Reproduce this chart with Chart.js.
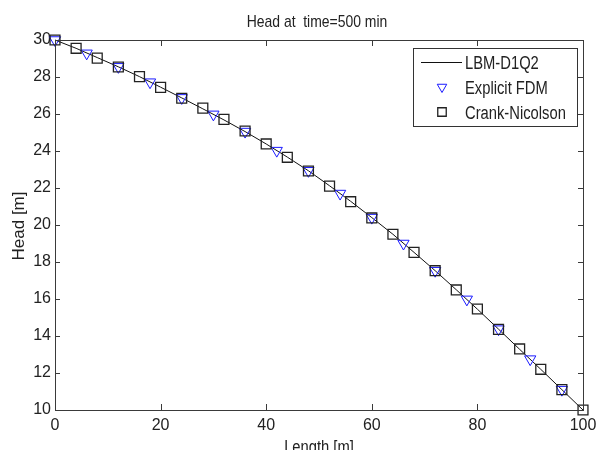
<!DOCTYPE html>
<html lang="en">
<head>
    <meta charset="UTF-8">
    <title>Head at time=500 min</title>
    <script src="https://cdn.jsdelivr.net/npm/chart.js"></script>
    <style>
        body {
            margin: 0;
            padding: 0;
            background-color: #fff;
        }
        #wrap {
            width: 596px;
            height: 450px;
        }
    </style>
</head>
<body>

    <div id="wrap"><canvas id="myChart" width="596" height="450"></canvas></div>

    <script>
        // values
        var lbmX = [0, 4, 8, 12, 16, 20, 24, 28, 32, 36, 40, 44, 48, 52, 56, 60, 64, 68, 72, 76, 80, 84, 88, 92, 96, 100];
        var lbmHead = [30, 29.55, 29.05, 28.55, 28.02, 27.45, 26.87, 26.28, 25.68, 25.05, 24.38, 23.67, 22.93, 22.12, 21.28, 20.4, 19.5, 18.52, 17.53, 16.5, 15.45, 14.37, 13.28, 12.2, 11.1, 10];

        var fdmX = [0, 6, 12, 18, 24, 30, 36, 42, 48, 54, 60, 66, 72, 78, 84, 90, 96];
        var fdmHead = [30, 29.28, 28.55, 27.72, 26.87, 25.98, 25.05, 24.02, 22.93, 21.7, 20.4, 19.0, 17.53, 15.98, 14.37, 12.75, 11.1];

        var cnX = [0, 4, 8, 12, 16, 20, 24, 28, 32, 36, 40, 44, 48, 52, 56, 60, 64, 68, 72, 76, 80, 84, 88, 92, 96, 100];
        var cnHead = [30, 29.55, 29.02, 28.54, 28.02, 27.44, 26.85, 26.32, 25.71, 25.08, 24.38, 23.66, 22.92, 22.1, 21.26, 20.38, 19.5, 18.52, 17.53, 16.49, 15.46, 14.36, 13.3, 12.2, 11.1, 10];

        var xTicks = [0, 20, 40, 60, 80, 100];
        var yTicks = [10, 12, 14, 16, 18, 20, 22, 24, 26, 28, 30];

        var titleText = 'Head at  time=500 min';
        var xLabel = 'Length [m]';
        var yLabel = 'Head [m]';

        var FONT = "'Liberation Sans', Arial, sans-serif";

        function toPoints(xs, ys) {
            return xs.map((x, i) => ({ x: x, y: ys[i] }));
        }

        // the source picture is squeezed sideways, so text gets narrowed
        function narrowText(ctx, text, x, y, align) {
            ctx.save();
            ctx.translate(x, y);
            ctx.scale(0.82, 1);
            ctx.textAlign = align;
            ctx.fillText(text, 0, 0);
            ctx.restore();
        }

        // frame, inward ticks, title, axis labels and legend, matlab style
        var matlabAxes = {
            id: 'matlabAxes',
            afterDraw(chart) {
                var ctx = chart.ctx;
                var a = chart.chartArea;
                var xs = chart.scales.x;
                var ys = chart.scales.y;
                ctx.save();
                ctx.strokeStyle = '#3a3a3a';
                ctx.lineWidth = 1;
                ctx.strokeRect(Math.round(a.left) + 0.5, Math.round(a.top) + 0.5,
                    Math.round(a.right - a.left), Math.round(a.bottom - a.top));
                ctx.beginPath();
                xTicks.forEach(v => {
                    var px = Math.round(xs.getPixelForValue(v)) + 0.5;
                    ctx.moveTo(px, a.bottom);
                    ctx.lineTo(px, a.bottom - 6);
                    ctx.moveTo(px, a.top);
                    ctx.lineTo(px, a.top + 6);
                });
                yTicks.forEach(v => {
                    var py = Math.round(ys.getPixelForValue(v)) + 0.5;
                    ctx.moveTo(a.left, py);
                    ctx.lineTo(a.left + 5, py);
                    ctx.moveTo(a.right, py);
                    ctx.lineTo(a.right - 5, py);
                });
                ctx.stroke();

                // title and axis labels
                ctx.fillStyle = '#222';
                ctx.textBaseline = 'alphabetic';
                ctx.font = '17px ' + FONT;
                narrowText(ctx, titleText, 317, 27, 'center');
                ctx.font = '18px ' + FONT;
                narrowText(ctx, xLabel, (a.left + a.right) / 2, 453, 'center');
                ctx.save();
                ctx.translate(24, 226);
                ctx.rotate(-Math.PI / 2);
                ctx.font = '17px ' + FONT;
                ctx.textAlign = 'center';
                ctx.fillText(yLabel, 0, 0);
                ctx.restore();

                // legend box
                var bx = 413.5, by = 48.5, bw = 164, bh = 78;
                ctx.fillStyle = '#fff';
                ctx.fillRect(bx, by, bw, bh);
                ctx.strokeStyle = '#333';
                ctx.lineWidth = 1;
                ctx.strokeRect(bx, by, bw, bh);
                var rows = [62, 87, 112];
                chart.data.datasets.forEach((ds, i) => {
                    var cy = rows[i];
                    if (ds.showLine) {
                        ctx.strokeStyle = ds.borderColor;
                        ctx.lineWidth = ds.borderWidth;
                        ctx.beginPath();
                        ctx.moveTo(421, cy + 0.5);
                        ctx.lineTo(462, cy + 0.5);
                        ctx.stroke();
                    } else {
                        ctx.fillStyle = 'rgba(0,0,0,0)';
                        ctx.strokeStyle = ds.pointBorderColor;
                        ctx.lineWidth = ds.pointBorderWidth;
                        Chart.helpers.drawPoint(ctx, {
                            pointStyle: ds.pointStyle,
                            rotation: ds.pointRotation || 0,
                            radius: ds.legendRadius,
                            borderWidth: ds.pointBorderWidth
                        }, 442, cy);
                    }
                    ctx.fillStyle = '#222';
                    ctx.font = '18px ' + FONT;
                    narrowText(ctx, ds.label, 465, cy + 6.5, 'left');
                });
                ctx.restore();
            }
        };

        var ctx = document.getElementById('myChart').getContext('2d');

        var noPad = s => {
            s.paddingLeft = 0;
            s.paddingRight = 0;
            s.paddingTop = 0;
            s.paddingBottom = 0;
        };

        var myChart = new Chart(ctx, {
            type: 'scatter',
            data: {
                datasets: [
                    {
                        label: 'LBM-D1Q2',
                        data: toPoints(lbmX, lbmHead),
                        showLine: true,
                        borderColor: '#111',
                        borderWidth: 1,
                        pointRadius: 0,
                        clip: false,
                        order: 3
                    },
                    {
                        label: 'Explicit FDM',
                        data: toPoints(fdmX, fdmHead),
                        showLine: false,
                        pointStyle: 'triangle',
                        pointRotation: 180,
                        pointRadius: 6.5,
                        legendRadius: 5.5,
                        pointBackgroundColor: 'rgba(0,0,0,0)',
                        pointBorderColor: '#1a1aff',
                        pointBorderWidth: 1,
                        clip: false,
                        order: 2
                    },
                    {
                        label: 'Crank-Nicolson',
                        data: toPoints(cnX, cnHead),
                        showLine: false,
                        pointStyle: 'rect',
                        pointRadius: 7,
                        legendRadius: 6,
                        pointBackgroundColor: 'rgba(0,0,0,0)',
                        pointBorderColor: '#222',
                        pointBorderWidth: 1.3,
                        clip: false,
                        order: 1
                    }
                ]
            },
            options: {
                responsive: false,
                animation: false,
                layout: {
                    padding: { top: 40, right: 13, left: 0, bottom: 0 }
                },
                scales: {
                    x: {
                        type: 'linear',
                        min: 0,
                        max: 100,
                        afterFit: s => { s.height = 40; noPad(s); },
                        afterBuildTicks: s => { s.ticks = xTicks.map(v => ({ value: v })); },
                        grid: { display: false, drawTicks: false },
                        border: { display: false },
                        ticks: {
                            padding: 6,
                            color: '#222',
                            font: { size: 16, family: FONT },
                            maxRotation: 0,
                            autoSkip: false
                        }
                    },
                    y: {
                        type: 'linear',
                        min: 10,
                        max: 30,
                        afterFit: s => { s.width = 55; noPad(s); },
                        afterBuildTicks: s => { s.ticks = yTicks.map(v => ({ value: v })); },
                        grid: { display: false, drawTicks: false },
                        border: { display: false },
                        ticks: {
                            padding: 4,
                            color: '#222',
                            font: { size: 16, family: FONT },
                            autoSkip: false
                        }
                    }
                },
                plugins: {
                    legend: { display: false },
                    title: { display: false },
                    tooltip: { enabled: false }
                }
            },
            plugins: [matlabAxes]
        });
    </script>
</body>
</html>
